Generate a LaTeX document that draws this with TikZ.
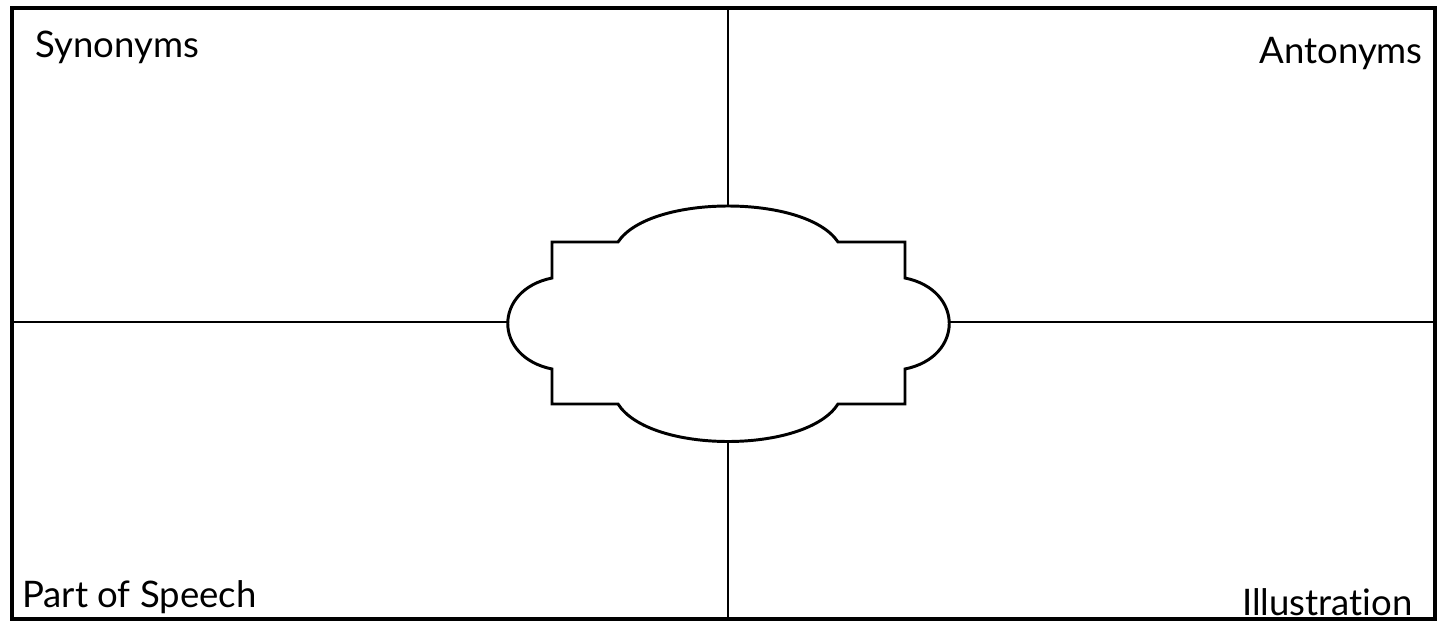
\documentclass[tikz,border=0pt]{standalone}
\usepackage{fontspec}
\setsansfont{Lato}[Ligatures=NoCommon]
\usetikzlibrary{positioning}

\begin{document}
\begin{tikzpicture}[x=0.025cm,y=-0.025cm,
 frame/.style={line width=2.6pt},
 rule/.style={line width=1.9pt},
 plaque/.style={line width=2.1pt,line join=miter},
 word/.style={font=\sffamily\fontsize{26}{30}\selectfont,inner sep=0pt}]
\useasboundingbox (0,0) rectangle (1442,625);
\draw[frame] (12,8) rectangle (1435,619);
% centre plaque
\draw[plaque] (618,242) .. controls (650,194) and (806,194) .. (838,242)
 -- (905,242) -- (905,278) .. controls (964,290) and (964,357) .. (905,369)
 -- (905,404) -- (838,404) .. controls (806,454) and (650,454) .. (618,404)
 -- (552,404) -- (552,369) .. controls (493,357) and (493,290) .. (552,278)
 -- (552,242) -- cycle;
\coordinate (ptop) at (728,206);
\coordinate (pbot) at (728,441);
\coordinate (pleft) at (508,322);
\coordinate (pright) at (949,322);
\coordinate (ftop) at (728,8);
\coordinate (fbot) at (728,619);
\coordinate (fleft) at (12,322);
\coordinate (fright) at (1435,322);
\draw[rule] (ftop) -- (ptop);
\draw[rule] (pbot) -- (fbot);
\draw[rule] (fleft) -- (pleft);
\draw[rule] (pright) -- (fright);
% corner words
\node[word,anchor=base west] (syn) at (35,57) {Synonyms};
\node[word,anchor=base east] (ant) at (1423,63) {Antonyms};
\node[word,anchor=base west] (pos) at (22,607) {Part of Speech};
\node[word,anchor=base east] (ill) at (1413,615) {Illustration};
\end{tikzpicture}
\end{document}
